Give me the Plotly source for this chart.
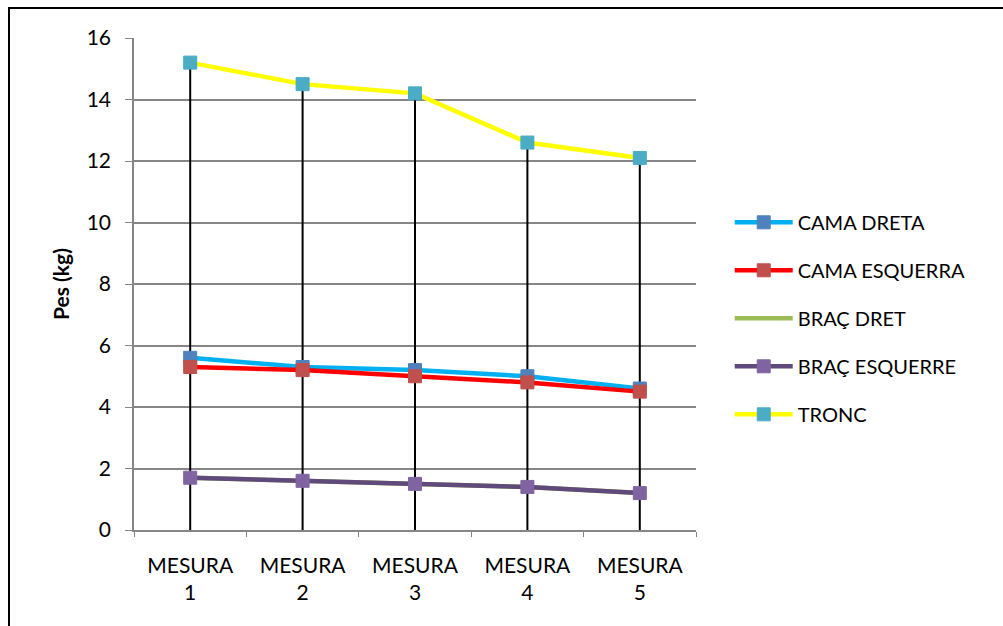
import plotly.graph_objects as go

# Measurements (categories) and body-segment weights in kg
categories = ["MESURA<br>1", "MESURA<br>2", "MESURA<br>3", "MESURA<br>4", "MESURA<br>5"]
cama_dreta = [5.6, 5.3, 5.2, 5.0, 4.6]
cama_esquerra = [5.3, 5.2, 5.0, 4.8, 4.5]
brac_dret = [1.7, 1.6, 1.5, 1.4, 1.2]
brac_esquerre = [1.7, 1.6, 1.5, 1.4, 1.2]
tronc = [15.2, 14.5, 14.2, 12.6, 12.1]
y_ticks = [0, 2, 4, 6, 8, 10, 12, 14, 16]

FONT = "Lato"
W, H = 1003, 626
L, R, T, B = 134, 307, 38, 96

fig = go.Figure()

# Drop lines from the highest point of each category down to the axis
all_series = [cama_dreta, cama_esquerra, brac_dret, brac_esquerre, tronc]
drop_x, drop_y = [], []
for i, c in enumerate(categories):
    top = max(s[i] for s in all_series)
    drop_x += [c, c, None]
    drop_y += [0, top, None]
fig.add_trace(go.Scatter(x=drop_x, y=drop_y, mode="lines",
                         line=dict(color="black", width=2),
                         showlegend=False, hoverinfo="skip"))

series = [
    ("CAMA DRETA", cama_dreta, "#00B0F0", "#4F81BD", True),
    ("CAMA ESQUERRA", cama_esquerra, "#FF0000", "#C0504D", True),
    ("BRAÇ DRET", brac_dret, "#9BBB59", None, False),
    ("BRAÇ ESQUERRE", brac_esquerre, "#604A7B", "#8064A2", True),
    ("TRONC", tronc, "#FFFF00", "#4BACC6", True),
]
for name, vals, lc, mc, has_marker in series:
    fig.add_trace(go.Scatter(
        x=categories, y=vals, name=name, legendgroup=name,
        mode="lines+markers" if has_marker else "lines",
        line=dict(color=lc, width=4.5),
        marker=dict(symbol="square", size=13, color=mc,
                    line=dict(color=mc, width=1)) if has_marker else None,
    ))

fig.update_layout(
    width=W, height=H,
    margin=dict(l=L, r=R, t=T, b=B),
    paper_bgcolor="white", plot_bgcolor="white",
    font=dict(family=FONT, size=21, color="black"),
    legend=dict(x=1.06, y=0.665, xanchor="left", yanchor="top",
                traceorder="grouped", tracegroupgap=19, itemwidth=58,
                font=dict(family=FONT, size=20, color="black"),
                bgcolor="rgba(0,0,0,0)"),
    xaxis=dict(type="category", range=[-0.5, 4.5], showgrid=False,
               showline=True, linecolor="#868686", linewidth=1.5,
               ticks="outside", tickson="boundaries", ticklen=5,
               tickcolor="#868686", tickwidth=1, ticklabelstandoff=16,
               tickfont=dict(family=FONT, size=21)),
    yaxis=dict(range=[0, 16], tickvals=y_ticks, showgrid=True,
               gridcolor="#868686", gridwidth=1.5, zeroline=False,
               showline=True, linecolor="#868686", linewidth=1.5,
               ticks="outside", ticklen=7, tickcolor="#868686",
               ticklabelstandoff=10,
               tickfont=dict(family=FONT, size=21),
               title=dict(text="<b>Pes (kg)</b>", standoff=11,
                          font=dict(family=FONT, size=21))),
    shapes=[dict(type="rect", xref="paper", yref="paper",
                 x0=(9 - L) / (W - L - R), x1=(1010 - L) / (W - L - R),
                 y0=(H - B - 640) / (H - T - B), y1=(H - B - 8) / (H - T - B),
                 line=dict(color="black", width=2), layer="below")],
)

fig.write_html("out.html")
